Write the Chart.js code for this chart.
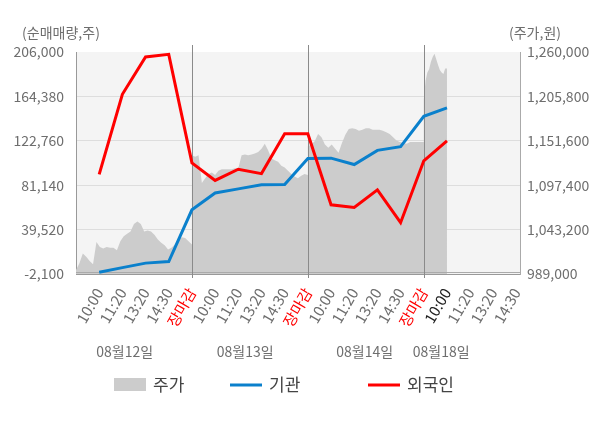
<!DOCTYPE html>
<html>
<head>
<meta charset="utf-8">
<script src="https://cdn.jsdelivr.net/npm/chart.js@4/dist/chart.umd.min.js"></script>
<style>
  html, body { margin: 0; padding: 0; background: #fff; }
  #wrap { width: 600px; height: 428px; position: relative; }
</style>
</head>
<body>
<div id="wrap"><canvas id="chart"></canvas></div>
<script>
// x axis labels, one per slot (1..19)
const timeLabels = [
  '10:00', '11:20', '13:20', '14:30', '장마감',
  '10:00', '11:20', '13:20', '14:30', '장마감',
  '10:00', '11:20', '13:20', '14:30', '장마감',
  '10:00', '11:20', '13:20', '14:30'
];
const dayLabels = ['08월12일', '08월13일', '08월14일', '08월18일'];

// net buying (shares), slots 1..16
const institution = [-500, 3900, 8100, 9600, 58100, 73900, 77700, 81500, 81800,
  106200, 106500, 100500, 113800, 117300, 145800, 153700];
const foreign = [91300, 166400, 201300, 203800, 102100, 85600, 96100, 92000, 129300,
  129300, 62800, 60300, 76800, 46000, 104000, 122700];

// intraday price (won), evenly sampled through each session
const priceDay1 = [994000, 1002000, 1014000, 1010000, 1005000, 1001000, 1028000, 1022000,
  1020000, 1022000, 1021000, 1021000, 1018000, 1029000, 1035000, 1038000, 1041000, 1050000,
  1053000, 1050000, 1041000, 1042000, 1041000, 1037000, 1031000, 1027000, 1024000, 1019000,
  1021000, 1025000, 1031000, 1034000, 1033000, 1029000, 1025000];
const priceDay2 = [1134000, 1132000, 1134000, 1100000, 1106000, 1111000, 1113000, 1110000,
  1115000, 1117000, 1117000, 1117000, 1117000, 1118000, 1118000, 1134000, 1135000, 1134000,
  1135000, 1136000, 1138000, 1142000, 1148000, 1140000, 1130000, 1128000, 1126000, 1121000,
  1119000, 1115000, 1111000, 1108000, 1106000, 1109000, 1111000, 1110000];
const priceDay3 = [1145000, 1147000, 1151000, 1160000, 1156000, 1147000, 1143000, 1147000,
  1142000, 1137000, 1149000, 1159000, 1166000, 1167000, 1166000, 1164000, 1165000, 1167000,
  1167000, 1165000, 1165000, 1165000, 1164000, 1162000, 1160000, 1156000, 1152000, 1150000,
  1149000, 1148000, 1150000, 1150000, 1150000, 1150000, 1150000];
const priceDay4 = [1202000, 1225000, 1235000, 1239000, 1248000, 1254000, 1258000, 1251000,
  1244000, 1238000, 1235000, 1233000, 1240000, 1240000];

const leftTicks = [-2100, 39520, 81140, 122760, 164380, 206000];
const rightTicks = [989000, 1043200, 1097400, 1151600, 1205800, 1260000];

// session spans in slot units
const daySpans = [[0, 5], [5, 10], [10, 15], [15, 16]];
const dayLabelSlots = [2.1, 7.3, 12.45, 15.75];
const separatorSlots = [5, 10, 15];

const FONT = "'Noto Sans CJK KR', 'Noto Sans', sans-serif";

function pricePoints() {
  const pts = [];
  [priceDay1, priceDay2, priceDay3, priceDay4].forEach((day, d) => {
    const [a, b] = daySpans[d];
    day.forEach((p, i) => {
      pts.push({ x: a + i * (b - a) / (day.length - 1), y: p });
    });
  });
  return pts;
}

function slotPoints(values) {
  return values.map((v, i) => ({ x: i + 1, y: v }));
}

const decor = {
  id: 'decor',
  beforeDraw(chart) {
    const { ctx, chartArea: a } = chart;
    ctx.save();
    ctx.fillStyle = '#f4f4f4';
    ctx.fillRect(a.left, a.top, a.right - a.left, a.bottom - a.top);
    ctx.restore();
  },
  afterDatasetDraw(chart, args) {
    if (args.index !== 0) return;
    const { ctx, chartArea: a, scales } = chart;
    ctx.save();
    // zero line
    const y0 = Math.round(scales.y.getPixelForValue(0)) + 0.5;
    ctx.strokeStyle = '#aaaaaa';
    ctx.lineWidth = 1;
    ctx.beginPath();
    ctx.moveTo(a.left, y0);
    ctx.lineTo(a.right, y0);
    ctx.stroke();
    // session separators
    ctx.strokeStyle = '#8a8a8a';
    separatorSlots.forEach((s) => {
      const x = Math.round(scales.x.getPixelForValue(s)) + 0.5;
      ctx.beginPath();
      ctx.moveTo(x, a.top - 7);
      ctx.lineTo(x, a.bottom + 4);
      ctx.stroke();
    });
    ctx.restore();
  },
  afterDraw(chart) {
    const { ctx, chartArea: a, scales } = chart;
    ctx.save();
    ctx.font = '14px ' + FONT;
    ctx.fillStyle = '#6e6e6e';
    ctx.textBaseline = 'middle';
    ctx.textAlign = 'center';
    ctx.fillText('(순매매량,주)', a.left - 15, a.top - 19);
    ctx.fillText('(주가,원)', a.right + 15, a.top - 19);

    // date labels under the time ticks
    dayLabels.forEach((t, i) => {
      ctx.fillText(t, scales.x.getPixelForValue(dayLabelSlots[i]), 352);
    });

    // legend
    const legendX = [114, 230, 368];
    const ly = 385;
    ctx.font = '17px ' + FONT;
    ctx.textAlign = 'left';
    chart.data.datasets.forEach((ds, i) => {
      const x = legendX[i];
      if (ds.fill) {
        ctx.fillStyle = ds.backgroundColor;
        ctx.fillRect(x, ly - 7, 32, 13);
      } else {
        ctx.strokeStyle = ds.borderColor;
        ctx.lineWidth = 3;
        ctx.beginPath();
        ctx.moveTo(x, ly);
        ctx.lineTo(x + 32, ly);
        ctx.stroke();
      }
      ctx.fillStyle = '#444';
      ctx.fillText(ds.label, x + 39, ly);
    });
    ctx.restore();
  }
};

new Chart(document.getElementById('chart'), {
  type: 'line',
  data: {
    datasets: [
      {
        label: '주가',
        data: pricePoints(),
        yAxisID: 'y1',
        fill: 'start',
        backgroundColor: '#cccccc',
        borderWidth: 0,
        pointRadius: 0,
        order: 3,
      },
      {
        label: '기관',
        data: slotPoints(institution),
        yAxisID: 'y',
        borderColor: '#0a80cc',
        borderWidth: 3,
        pointRadius: 0,
        fill: false,
        order: 1,
      },
      {
        label: '외국인',
        data: slotPoints(foreign),
        yAxisID: 'y',
        borderColor: '#ff0000',
        borderWidth: 3,
        pointRadius: 0,
        fill: false,
        order: 0,
      },
    ],
  },
  options: {
    responsive: true,
    maintainAspectRatio: false,
    animation: false,
    layout: { padding: { top: 52, left: 0, right: 0, bottom: 0 } },
    plugins: {
      legend: { display: false },
      tooltip: { enabled: false },
    },
    scales: {
      x: {
        type: 'linear',
        min: 0,
        max: 19.15,
        afterBuildTicks: (scale) => {
          scale.ticks = timeLabels.map((_, i) => ({ value: i + 1 }));
        },
        afterFit: (scale) => { scale.height = 154; },
        grid: { color: 'rgba(0,0,0,0)', drawTicks: false },
        border: { color: '#999', width: 1 },
        ticks: {
          autoSkip: false,
          minRotation: 60,
          maxRotation: 60,
          padding: 11,
          font: { family: FONT, size: 15 },
          color: (c) => {
            if (timeLabels[c.index] === '장마감') return '#ff0000';
            if (c.index === 15) return '#222';
            return '#6e6e6e';
          },
          callback: (v, i) => timeLabels[i],
        },
      },
      y: {
        position: 'left',
        min: leftTicks[0],
        max: leftTicks[leftTicks.length - 1],
        afterBuildTicks: (scale) => {
          scale.ticks = leftTicks.map((v) => ({ value: v }));
        },
        afterFit: (scale) => { scale.width = 76; },
        grid: {
          drawTicks: false,
          color: (c) => (c.index === leftTicks.length - 1 ? 'rgba(0,0,0,0)' : '#dddddd'),
        },
        border: { color: '#999', width: 1 },
        ticks: {
          padding: 12,
          font: { family: FONT, size: 14 },
          color: '#6e6e6e',
          callback: (v) => v.toLocaleString('en-US'),
        },
      },
      y1: {
        position: 'right',
        min: rightTicks[0],
        max: rightTicks[rightTicks.length - 1],
        afterBuildTicks: (scale) => {
          scale.ticks = rightTicks.map((v) => ({ value: v }));
        },
        afterFit: (scale) => { scale.width = 80; },
        grid: { display: false, drawTicks: false },
        border: { color: '#aaa', width: 1 },
        ticks: {
          padding: 7,
          font: { family: FONT, size: 14 },
          color: '#6e6e6e',
          callback: (v) => v.toLocaleString('en-US'),
        },
      },
    },
  },
  plugins: [decor],
});
</script>
</body>
</html>
